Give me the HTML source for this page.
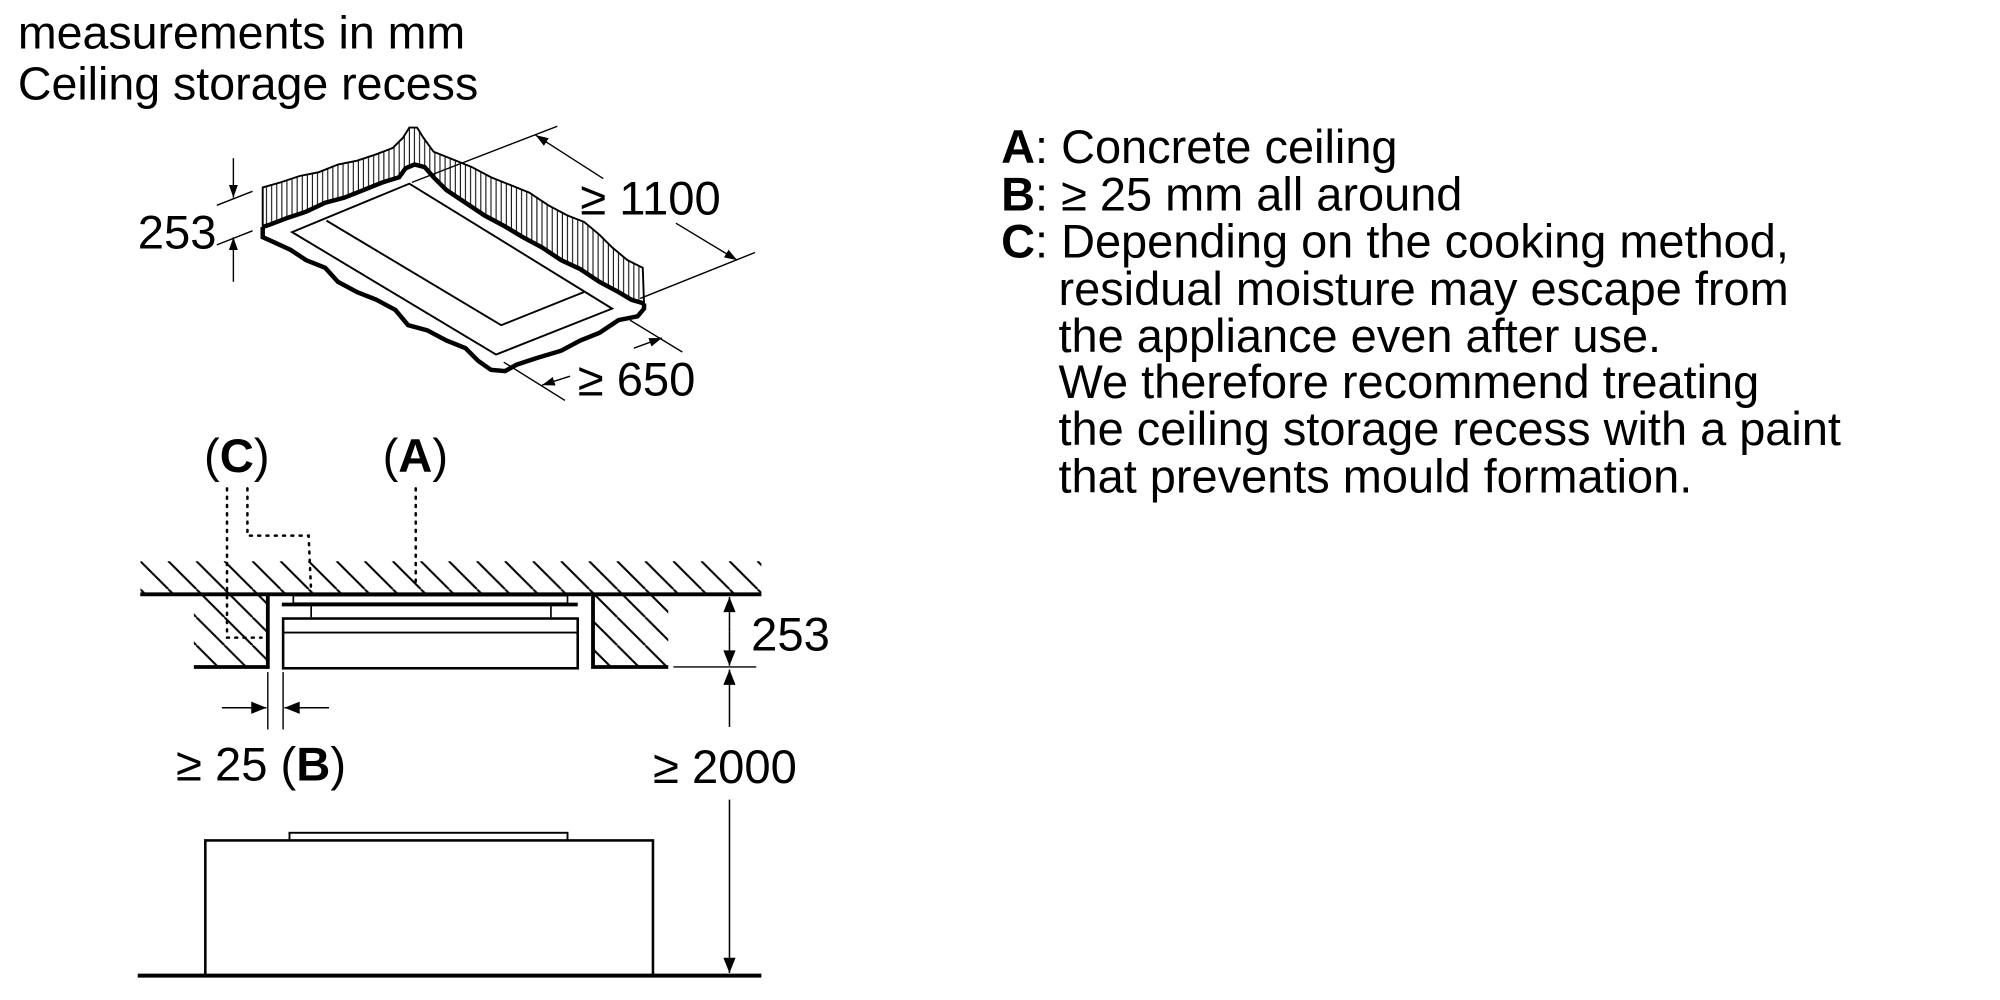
<!DOCTYPE html>
<html><head><meta charset="utf-8"><style>
html,body{margin:0;padding:0;background:#fff;}
svg{display:block;}
text{font-family:"Liberation Sans",Arial,sans-serif;fill:#000;}
</style></head><body>
<svg width="2000" height="1000" viewBox="0 0 1551 775.5" xmlns="http://www.w3.org/2000/svg">
<defs>
<marker id="ar" viewBox="0 0 10 10" refX="10" refY="5" markerWidth="10" markerHeight="10" markerUnits="userSpaceOnUse" orient="auto"><path d="M0,1.5 L10,5 L0,8.5 Z" fill="#000"/></marker>
<marker id="ab" viewBox="0 0 10 10" refX="10" refY="5" markerWidth="14" markerHeight="12" markerUnits="userSpaceOnUse" orient="auto"><path d="M0,1 L10,5 L0,9 Z" fill="#000"/></marker>
<pattern id="vh" width="4" height="10" patternUnits="userSpaceOnUse"><line x1="1" y1="0" x2="1" y2="10" stroke="#000" stroke-width="0.8"/></pattern>
<pattern id="dh" width="22" height="22" patternUnits="userSpaceOnUse"><line x1="0" y1="0" x2="22" y2="22" stroke="#000" stroke-width="1.6"/><line x1="-22" y1="0" x2="0" y2="22" stroke="#000" stroke-width="1.6"/><line x1="22" y1="0" x2="44" y2="22" stroke="#000" stroke-width="1.6"/></pattern>
</defs>
<g transform="scale(0.989)">
<text x="14" y="38" font-size="36.5">measurements in mm</text>
<text x="14" y="78" font-size="36.5">Ceiling storage recess</text>

<g font-size="36.8">
<text x="785" y="128"><tspan font-weight="bold">A</tspan>: Concrete ceiling</text>
<text x="785" y="165"><tspan font-weight="bold">B</tspan>: ≥ 25 mm all around</text>
<text x="785" y="202"><tspan font-weight="bold">C</tspan>: Depending on the cooking method,</text>
<text x="830" y="239">residual moisture may escape from</text>
<text x="830" y="276">the appliance even after use.</text>
<text x="830" y="312">We therefore recommend treating</text>
<text x="830" y="349">the ceiling storage recess with a paint</text>
<text x="830" y="386">that prevents mould formation.</text>
</g>

<path d="M206,147 L220,143 L235,138 L250,135 L265,129 L280,126 L295,121 L308,116 L316,108 L321,100 L327,100 L332,108 L340,119 L355,125 L370,131 L385,139 L400,145 L415,151 L430,161 L445,169 L458,174 L470,184 L480,194 L492,204 L504,210 L505,238 L495,235 L485,229 L470,221 L455,211 L440,204 L425,194 L410,186 L395,177 L380,169 L365,159 L350,149 L340,139 L333,131 L325,129 L318,132 L313,139 L300,143 L285,149 L270,155 L255,159 L240,166 L225,171 L212,176 L206,178 Z" fill="url(#vh)" stroke="#000" stroke-width="1.5"/>
<path d="M206,178 L212,176 L225,171 L240,166 L255,159 L270,155 L285,149 L300,143 L313,139 L318,132 L325,129 L333,131 L340,139 L350,149 L365,159 L380,169 L395,177 L410,186 L425,194 L440,204 L455,211 L470,221 L485,229 L495,235 L505,238" fill="none" stroke="#000" stroke-width="3.5"/>
<path d="M206,178 L206,186 L215,190 L228,196 L240,204 L255,210 L265,221 L280,229 L295,235 L310,243 L320,255 L335,259 L350,267 L365,273 L375,283 L385,290 L396,291 L405,286 L420,281 L440,275 L455,267 L470,261 L485,251 L500,248 L505,242 L505,238" fill="none" stroke="#000" stroke-width="3.5"/>
<path d="M229,182 L321,144 L480,242 L389,278 Z" fill="none" stroke="#000" stroke-width="1.5"/>
<path d="M256,173 L393,255 L458,229" fill="none" stroke="#000" stroke-width="1.5"/>

<g stroke="#000" stroke-width="1.1" fill="none">
<line x1="183" y1="124" x2="183" y2="155" marker-end="url(#ar)"/>
<line x1="183" y1="221" x2="183" y2="186" marker-end="url(#ar)"/>
<line x1="170" y1="161" x2="198" y2="150"/>
<line x1="170" y1="192" x2="198" y2="181"/>
<line x1="323" y1="143" x2="437" y2="99"/>
<line x1="473" y1="140" x2="420" y2="106" marker-end="url(#ar)"/>
<line x1="530" y1="175" x2="578" y2="204" marker-end="url(#ar)"/>
<line x1="502" y1="234" x2="592" y2="198"/>
<line x1="494" y1="251" x2="535" y2="276"/>
<line x1="395" y1="284" x2="443" y2="314"/>
<line x1="497" y1="273" x2="519" y2="265" marker-end="url(#ar)"/>
<line x1="447" y1="295" x2="425" y2="302" marker-end="url(#ar)"/>
</g>
<text x="108" y="195" font-size="37">253</text>
<text x="455" y="168" font-size="37">≥ 1100</text>
<text x="453" y="310" font-size="37">≥ 650</text>

<text x="160" y="370" font-size="37">(<tspan font-weight="bold">C</tspan>)</text>
<text x="300" y="370" font-size="37">(<tspan font-weight="bold">A</tspan>)</text>

<rect x="110" y="440" width="487" height="26" fill="url(#dh)"/>
<rect x="152" y="466" width="58" height="57" fill="url(#dh)"/>
<rect x="465" y="466" width="59" height="57" fill="url(#dh)"/>
<rect x="210" y="466" width="255" height="60" fill="#fff"/>
<rect x="100" y="420" width="10" height="50" fill="#fff"/>

<g stroke="#000" stroke-width="2" fill="none" stroke-dasharray="1.5 5" stroke-linecap="round">
<path d="M178,383 L178,500 L205,500"/>
<path d="M194,383 L194,420 L242,420 L244,465"/>
<path d="M326,383 L326,458"/>
</g>

<g stroke="#000" fill="none">
<line x1="110" y1="466" x2="597" y2="466" stroke-width="3"/>
<path d="M152,523 L210,523 L210,466" stroke-width="3"/>
<path d="M465,466 L465,523 L524,523" stroke-width="3"/>
<rect x="230" y="467" width="215" height="6" stroke-width="1.3"/>
<line x1="221" y1="474" x2="453" y2="474" stroke-width="3"/>
<line x1="244" y1="474" x2="244" y2="484" stroke-width="1.3"/>
<line x1="432" y1="474" x2="432" y2="484" stroke-width="1.3"/>
<rect x="222" y="485" width="231" height="39" stroke-width="2"/>
<line x1="222" y1="496" x2="453" y2="496" stroke-width="1.5"/>
<line x1="572" y1="495" x2="572" y2="468" stroke-width="1.2" marker-end="url(#ab)"/>
<line x1="572" y1="495" x2="572" y2="522" stroke-width="1.2" marker-end="url(#ab)"/>
<line x1="528" y1="523" x2="593" y2="523" stroke-width="1.1"/>
<line x1="572" y1="570" x2="572" y2="525" stroke-width="1.2" marker-end="url(#ab)"/>
<line x1="572" y1="627" x2="572" y2="763" stroke-width="1.2" marker-end="url(#ab)"/>
<line x1="210" y1="527" x2="210" y2="572" stroke-width="1.1"/>
<line x1="222" y1="527" x2="222" y2="572" stroke-width="1.1"/>
<line x1="174" y1="555" x2="209" y2="555" stroke-width="1.2" marker-end="url(#ab)"/>
<line x1="258" y1="555" x2="223" y2="555" stroke-width="1.2" marker-end="url(#ab)"/>
<rect x="227" y="653" width="218" height="6" stroke-width="1.5"/>
<rect x="161" y="659" width="351" height="106" stroke-width="2"/>
<line x1="108" y1="765" x2="597" y2="765" stroke-width="3.2"/>
</g>
<text x="589" y="510" font-size="37">253</text>
<text x="138" y="612" font-size="37">≥ 25 (<tspan font-weight="bold">B</tspan>)</text>
<text x="512" y="614" font-size="37">≥ 2000</text>
</g>
</svg>
</body></html>
